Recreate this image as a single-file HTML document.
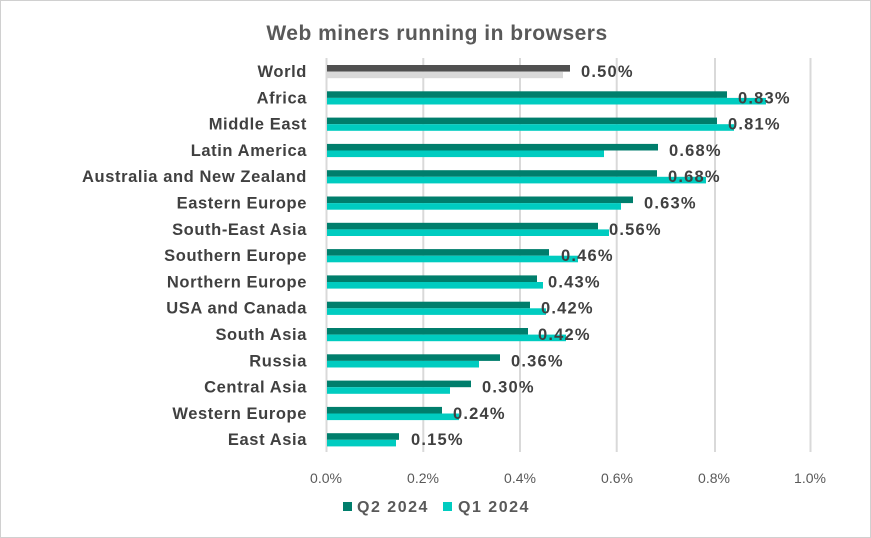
<!DOCTYPE html>
<html><head><style>
body{margin:0;background:#fff}
svg{display:block;font-family:"Liberation Sans",Arial,sans-serif}
</style></head><body>
<svg width="871" height="538" viewBox="0 0 871 538" xmlns="http://www.w3.org/2000/svg">
<rect x="0.5" y="0.5" width="870" height="537" fill="#fff" stroke="#d0d0d0"/>
<text x="437" y="40" text-anchor="middle" font-size="21" letter-spacing="0.5" font-weight="bold" fill="#595959">Web miners running in browsers</text>
<g stroke="#d9d9d9" stroke-width="2">
<line x1="423.3" y1="58" x2="423.3" y2="452"/>
<line x1="520" y1="58" x2="520" y2="452"/>
<line x1="616.7" y1="58" x2="616.7" y2="452"/>
<line x1="715" y1="58" x2="715" y2="452"/>
<line x1="810.5" y1="58" x2="810.5" y2="452"/>
<line x1="326.5" y1="58" x2="326.5" y2="452"/>
</g>
<g>
<rect x="327" y="65" width="243" height="6.6" fill="#505050"/><rect x="327" y="71.6" width="236" height="6.6" fill="#D9D9D9"/>
<rect x="327" y="91.3" width="400" height="6.6" fill="#007E6C"/><rect x="327" y="97.9" width="439" height="6.6" fill="#00CCC0"/>
<rect x="327" y="117.6" width="390" height="6.6" fill="#007E6C"/><rect x="327" y="124.2" width="407" height="6.6" fill="#00CCC0"/>
<rect x="327" y="143.9" width="331" height="6.6" fill="#007E6C"/><rect x="327" y="150.5" width="277" height="6.6" fill="#00CCC0"/>
<rect x="327" y="170.2" width="330" height="6.6" fill="#007E6C"/><rect x="327" y="176.8" width="379" height="6.6" fill="#00CCC0"/>
<rect x="327" y="196.5" width="306" height="6.6" fill="#007E6C"/><rect x="327" y="203.1" width="294" height="6.6" fill="#00CCC0"/>
<rect x="327" y="222.8" width="271" height="6.6" fill="#007E6C"/><rect x="327" y="229.4" width="282" height="6.6" fill="#00CCC0"/>
<rect x="327" y="249.1" width="222" height="6.6" fill="#007E6C"/><rect x="327" y="255.7" width="251" height="6.6" fill="#00CCC0"/>
<rect x="327" y="275.4" width="210" height="6.6" fill="#007E6C"/><rect x="327" y="282" width="216" height="6.6" fill="#00CCC0"/>
<rect x="327" y="301.7" width="203" height="6.6" fill="#007E6C"/><rect x="327" y="308.3" width="219" height="6.6" fill="#00CCC0"/>
<rect x="327" y="328" width="201" height="6.6" fill="#007E6C"/><rect x="327" y="334.6" width="239" height="6.6" fill="#00CCC0"/>
<rect x="327" y="354.3" width="173" height="6.6" fill="#007E6C"/><rect x="327" y="360.9" width="152" height="6.6" fill="#00CCC0"/>
<rect x="327" y="380.6" width="144" height="6.6" fill="#007E6C"/><rect x="327" y="387.2" width="123" height="6.6" fill="#00CCC0"/>
<rect x="327" y="406.9" width="115" height="6.6" fill="#007E6C"/><rect x="327" y="413.5" width="132" height="6.6" fill="#00CCC0"/>
<rect x="327" y="433.2" width="72" height="6.6" fill="#007E6C"/><rect x="327" y="439.8" width="69" height="6.6" fill="#00CCC0"/>
</g>
<g font-size="16.5" letter-spacing="0.6" font-weight="bold" fill="#404040" text-anchor="end">
<text x="307" y="77">World</text>
<text x="307" y="103.3">Africa</text>
<text x="307" y="129.6">Middle East</text>
<text x="307" y="155.9">Latin America</text>
<text x="307" y="182.2">Australia and New Zealand</text>
<text x="307" y="208.5">Eastern Europe</text>
<text x="307" y="234.8">South-East Asia</text>
<text x="307" y="261.1">Southern Europe</text>
<text x="307" y="287.4">Northern Europe</text>
<text x="307" y="313.7">USA and Canada</text>
<text x="307" y="340">South Asia</text>
<text x="307" y="366.3">Russia</text>
<text x="307" y="392.6">Central Asia</text>
<text x="307" y="418.9">Western Europe</text>
<text x="307" y="445.2">East Asia</text>
</g>
<g font-size="16.5" letter-spacing="1.2" font-weight="bold" fill="#404040">
<text x="581" y="77">0.50%</text>
<text x="738" y="103.3">0.83%</text>
<text x="728" y="129.6">0.81%</text>
<text x="669" y="155.9">0.68%</text>
<text x="668" y="182.2">0.68%</text>
<text x="644" y="208.5">0.63%</text>
<text x="609" y="234.8">0.56%</text>
<text x="561" y="261.1">0.46%</text>
<text x="548" y="287.4">0.43%</text>
<text x="541" y="313.7">0.42%</text>
<text x="538" y="340">0.42%</text>
<text x="511" y="366.3">0.36%</text>
<text x="482" y="392.6">0.30%</text>
<text x="453" y="418.9">0.24%</text>
<text x="411" y="445.2">0.15%</text>
</g>
<g font-size="14" fill="#595959" text-anchor="middle">
<text x="326" y="483">0.0%</text><text x="423" y="483">0.2%</text><text x="520" y="483">0.4%</text>
<text x="617" y="483">0.6%</text><text x="714" y="483">0.8%</text><text x="810" y="483">1.0%</text>
</g>
<rect x="343" y="502" width="9" height="9" fill="#007E6C"/>
<text x="357" y="512" font-size="16" letter-spacing="1.5" font-weight="bold" fill="#595959">Q2 2024</text>
<rect x="443" y="502" width="9" height="9" fill="#00CCC0"/>
<text x="458" y="512" font-size="16" letter-spacing="1.5" font-weight="bold" fill="#595959">Q1 2024</text>
</svg>
</body></html>
